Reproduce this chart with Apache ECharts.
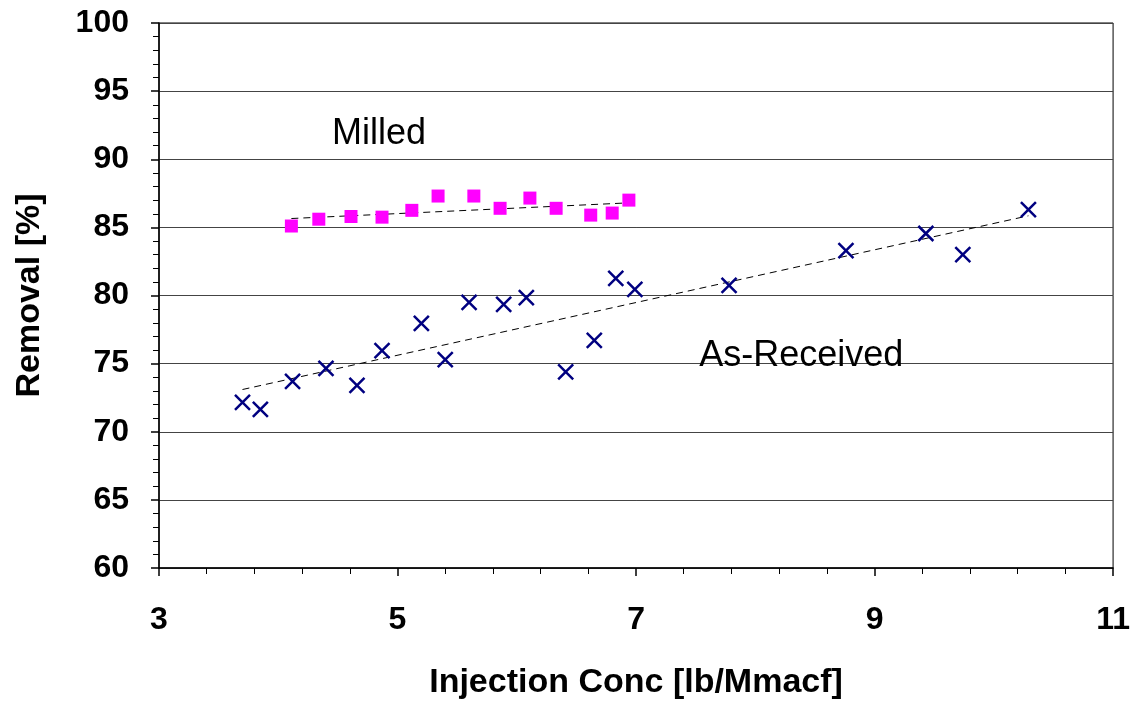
<!DOCTYPE html>
<html>
<head>
<meta charset="utf-8">
<title>Removal vs Injection Conc</title>
<script src="https://cdn.jsdelivr.net/npm/echarts@6/dist/echarts.min.js"></script>
<style>
  html, body { margin: 0; padding: 0; background: #fff; }
  #chart { width: 1133px; height: 705px; }
</style>
</head>
<body>
<div id="chart"></div>
<script>
// Milled (magenta squares)
const milledX = [4.11, 4.34, 4.61, 4.87, 5.12, 5.34, 5.64, 5.86, 6.11, 6.33, 6.62, 6.80, 6.94]
const milledY = [85.1, 85.6, 85.8, 85.75, 86.25, 87.3, 87.3, 86.4, 87.15, 86.4, 85.9, 86.05, 87.0]

// As-Received (navy crosses)
const asRecX = [3.70, 3.85, 4.12, 4.40, 4.66, 4.87, 5.20, 5.40, 5.60, 5.89, 6.08, 6.41, 6.65, 6.83, 6.99, 7.78, 8.76, 9.43, 9.74, 10.29]
const asRecY = [72.15, 71.65, 73.7, 74.65, 73.4, 75.95, 77.95, 75.3, 79.5, 79.35, 79.85, 74.4, 76.7, 81.25, 80.45, 80.75, 83.3, 84.55, 83.0, 86.3]

// trend line end points
const milledTrend = [[4.11, 85.65], [6.94, 86.8]]
const asRecTrend = [[3.70, 73.1], [10.29, 85.85]]

// text labels (left edge, middle) in data units
const labelMilled = [4.45, 91.85]
const labelAsRec = [7.53, 75.55]

const font = "'Liberation Sans', Arial, sans-serif"

const chart = echarts.init(document.getElementById('chart'))

const zip = (xs, ys) => xs.map((x, i) => [x, ys[i]])

const textLabel = (pos, text) => ({
  type: 'scatter',
  symbolSize: 0,
  silent: true,
  data: [pos],
  itemStyle: { opacity: 1 },
  label: {
    show: true,
    position: 'right',
    distance: 0,
    formatter: text,
    color: '#000',
    fontFamily: font,
    fontSize: 36
  },
  z: 5
})

const option = {
  animation: false,
  backgroundColor: '#fff',
  grid: {
    left: 159,
    right: 19,
    top: 23,
    bottom: 133,
    show: true,
    borderColor: '#000',
    borderWidth: 1
  },
  xAxis: {
    type: 'value',
    min: 3,
    max: 11,
    interval: 2,
    name: 'Injection Conc [lb/Mmacf]',
    nameLocation: 'middle',
    nameGap: 98,
    nameTextStyle: { color: '#000', fontFamily: font, fontSize: 34, fontWeight: 'bold' },
    axisLine: { lineStyle: { color: '#000', width: 1.5 } },
    axisTick: { show: true, length: 8, lineStyle: { color: '#000', width: 1.5 } },
    minorTick: { show: true, splitNumber: 5, length: 6, lineStyle: { color: '#000', width: 1 } },
    axisLabel: { color: '#000', fontFamily: font, fontSize: 32, fontWeight: 'bold', margin: 36 },
    splitLine: { show: false }
  },
  yAxis: {
    type: 'value',
    min: 60,
    max: 100,
    interval: 5,
    name: 'Removal [%]',
    nameLocation: 'middle',
    nameGap: 112,
    nameTextStyle: { color: '#000', fontFamily: font, fontSize: 34, fontWeight: 'bold' },
    axisLine: { show: true, lineStyle: { color: '#000', width: 1.5 } },
    axisTick: { show: true, length: 8, lineStyle: { color: '#000', width: 1.5 } },
    minorTick: { show: true, splitNumber: 5, length: 6, lineStyle: { color: '#000', width: 1 } },
    axisLabel: { color: '#000', fontFamily: font, fontSize: 32, fontWeight: 'bold', margin: 30 },
    splitLine: { show: true, lineStyle: { color: '#444', width: 1 } }
  },
  series: [
    {
      name: 'Milled trend',
      type: 'line',
      data: milledTrend,
      symbol: 'none',
      silent: true,
      lineStyle: { color: '#000', width: 1, type: [7, 5] },
      z: 3
    },
    {
      name: 'As-Received trend',
      type: 'line',
      data: asRecTrend,
      symbol: 'none',
      silent: true,
      lineStyle: { color: '#000', width: 1, type: [7, 5] },
      z: 3
    },
    {
      name: 'Milled',
      type: 'scatter',
      data: zip(milledX, milledY),
      symbol: 'rect',
      symbolSize: 13,
      itemStyle: { color: '#ff00ff', opacity: 1 },
      z: 4
    },
    {
      name: 'As-Received',
      type: 'scatter',
      data: zip(asRecX, asRecY),
      symbol: 'path://M0,0L10,10M10,0L0,10',
      symbolSize: 15,
      itemStyle: { color: 'transparent', borderColor: '#000080', borderWidth: 2.5, opacity: 1 },
      z: 4
    },
    textLabel(labelMilled, 'Milled'),
    textLabel(labelAsRec, 'As-Received')
  ]
}

chart.setOption(option)
</script>
</body>
</html>
